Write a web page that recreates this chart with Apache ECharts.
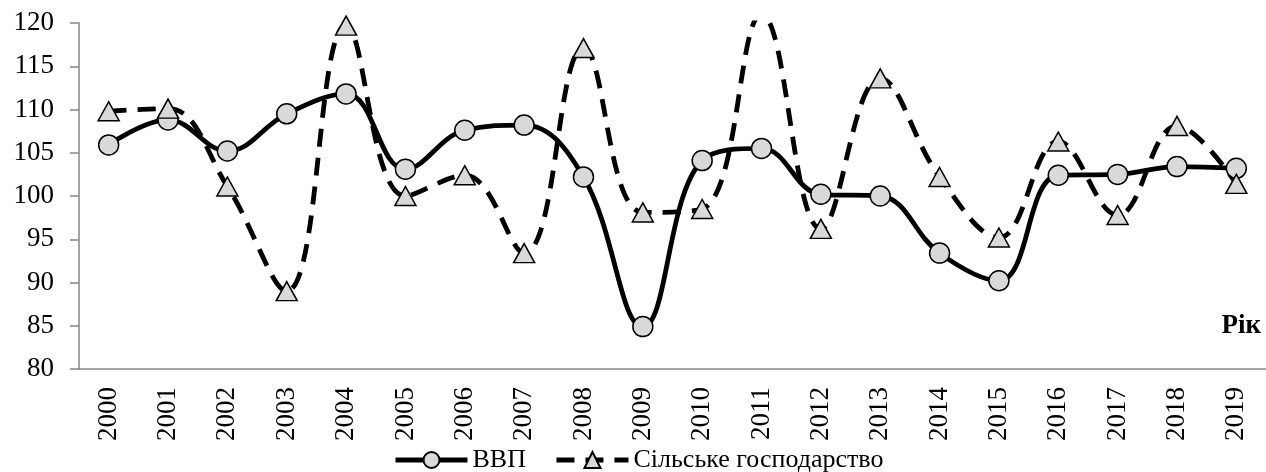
<!DOCTYPE html>
<html>
<head>
<meta charset="utf-8">
<script src="https://cdn.jsdelivr.net/npm/echarts@6/dist/echarts.min.js"></script>
<style>
  html, body { margin: 0; padding: 0; background: #fff; }
  #chart { width: 1266px; height: 472px; }
</style>
</head>
<body>
<div id="chart"></div>
<script>
// роки та індекси (% до попереднього року)
const years = ['2000', '2001', '2002', '2003', '2004', '2005', '2006', '2007', '2008', '2009',
  '2010', '2011', '2012', '2013', '2014', '2015', '2016', '2017', '2018', '2019']
const gdp = [105.9, 108.8, 105.2, 109.5, 111.8, 103.1, 107.6, 108.2, 102.2, 84.9,
  104.1, 105.5, 100.2, 100.0, 93.4, 90.2, 102.4, 102.5, 103.4, 103.2]
const agri = [109.8, 110.1, 101.1, 89.0, 119.7, 100.0, 102.4, 93.4, 117.1, 98.1,
  98.5, 121.0, 96.2, 113.6, 102.2, 95.2, 106.3, 97.8, 108.1, 101.4]

const font = 'Liberation Serif'
const chart = echarts.init(document.getElementById('chart'))

chart.setOption({
  animation: false,
  backgroundColor: '#fff',
  grid: { left: 79, top: 23, width: 1190, height: 346 },
  legend: {
    bottom: -6,
    left: 388,
    itemWidth: 72,
    itemHeight: 20,
    itemGap: 28,
    lineStyle: { width: 5 },
    textStyle: { fontFamily: font, fontSize: 26, color: '#000' },
    data: ['ВВП', 'Сільське господарство']
  },
  xAxis: {
    type: 'category',
    data: years,
    axisLine: { lineStyle: { color: '#868686', width: 1.5 } },
    axisTick: { length: 8, lineStyle: { color: '#868686', width: 1.5 } },
    axisLabel: { rotate: 90, margin: 18, fontFamily: font, fontSize: 27, color: '#000' }
  },
  yAxis: {
    type: 'value',
    min: 80,
    max: 120,
    interval: 5,
    splitLine: { show: false },
    axisLine: { show: true, lineStyle: { color: '#868686', width: 1.5 } },
    axisTick: { show: true, length: 9, lineStyle: { color: '#868686', width: 1.5 } },
    axisLabel: { margin: 25, fontFamily: font, fontSize: 27, color: '#000' }
  },
  graphic: [{
    type: 'text',
    right: 5,
    top: 313,
    style: { text: 'Рік', fontFamily: font, fontSize: 27, fontWeight: 'bold', fill: '#000' }
  }],
  series: [
    {
      name: 'ВВП',
      type: 'line',
      data: gdp,
      smooth: 0.4,
      symbol: 'circle',
      symbolSize: 20,
      lineStyle: { color: '#000', width: 4.8 },
      itemStyle: { color: '#d9d9d9', borderColor: '#000', borderWidth: 1.5 }
    },
    {
      name: 'Сільське господарство',
      type: 'line',
      data: agri,
      smooth: 0.4,
      symbol: 'triangle',
      symbolSize: [21, 19],
      lineStyle: { color: '#000', width: 4.8, type: [18, 11] },
      itemStyle: { color: '#d9d9d9', borderColor: '#000', borderWidth: 1.5 }
    }
  ]
})
</script>
</body>
</html>
